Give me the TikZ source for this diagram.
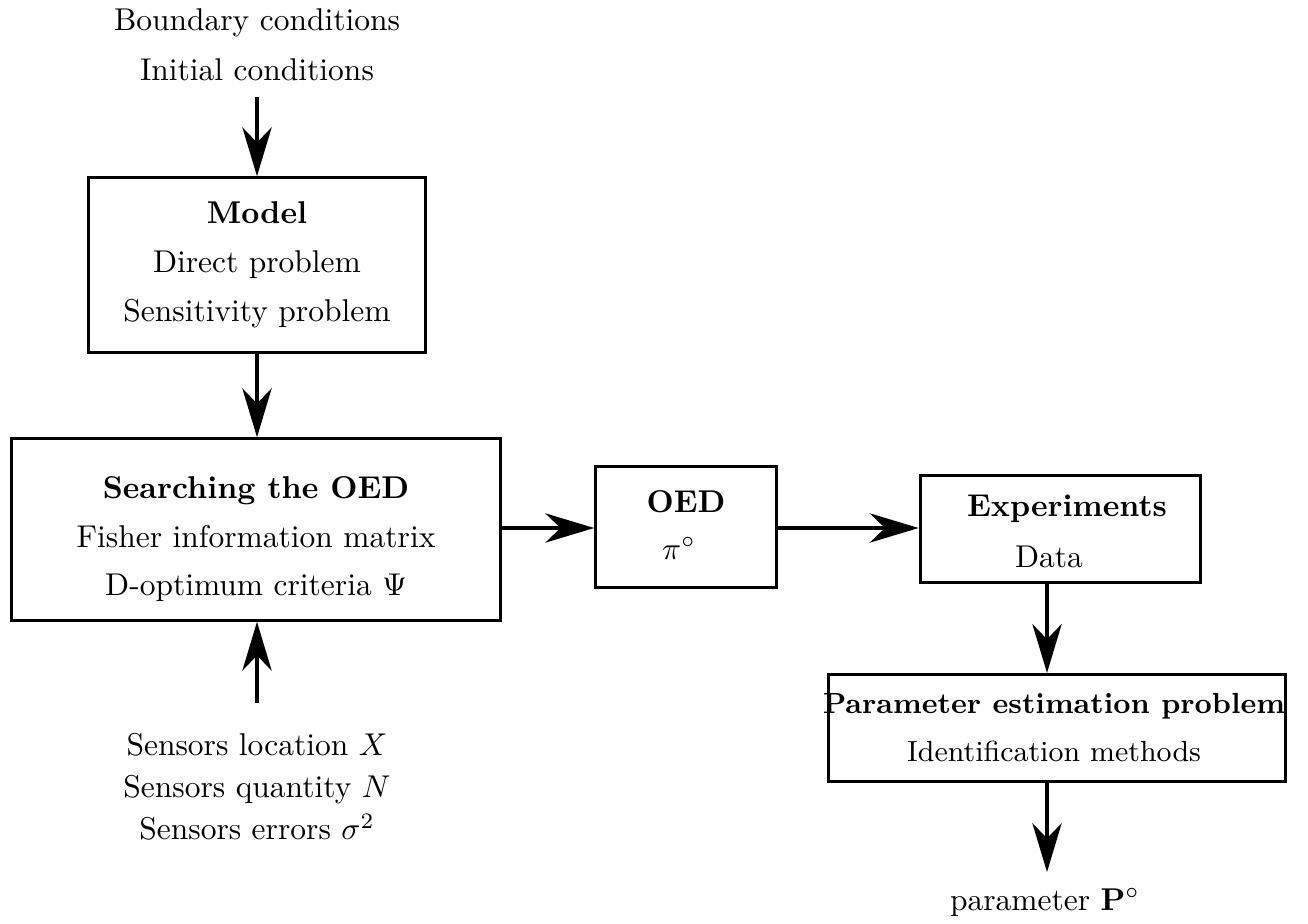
\documentclass[tikz,border=0pt]{standalone}
\usetikzlibrary{arrows.meta}
\begin{document}
\begin{tikzpicture}[x=0.3175pt,y=-0.3175pt,
  box/.style={draw,line width=1pt,inner sep=0pt},
  txt/.style={align=center,inner sep=0pt},
  ln/.style={inner sep=0pt,anchor=base},
  arr/.style={line width=1pt,-{Stealth[length=15.5pt,width=9.3pt,inset=4.8pt]}}]
\useasboundingbox (0,0) rectangle (1308,923);
% top inputs
\node[txt,font=\fontsize{10}{15.8}\selectfont] (bc) at (257,45) {Boundary conditions\\Initial conditions};
\coordinate (bcend) at (257,97);
% model
\node[box,align=center,font=\fontsize{10}{15.5}\selectfont,minimum width=107.1pt,minimum height=55.4pt] (model) at (257,265) {\textbf{Model}\\Direct problem\\Sensitivity problem};
% searching
\node[box,minimum width=155pt,minimum height=57.6pt] (search) at (256,529.5) {};
\node[ln] (s1) at (256,498) {\textbf{Searching the OED}};
\node[ln] (s2) at (256,547) {Fisher information matrix};
\node[ln] (s3) at (256,595) {D-optimum criteria $\Psi$};
% OED
\node[box,minimum width=57.3pt,minimum height=38.4pt] (oed) at (686,527) {};
\node[ln] (o1) at (686,512) {\textbf{OED}};
\node[ln] (o2) at (679,559) {$\pi^\circ$};
% experiments
\node[box,minimum width=89.1pt,minimum height=34pt] (exp) at (1060.5,529) {};
\node[ln] (e1) at (1067,516) {\textbf{Experiments}};
\node[ln] (e2) at (1049,567) {Data};
% parameter estimation
\node[box,minimum width=144.9pt,minimum height=34pt] (par) at (1057,728) {};
\node[ln,font=\fontsize{9.25}{11}\selectfont] (p1) at (1054,713) {\textbf{Parameter estimation problem}};
\node[ln,font=\fontsize{9.25}{11}\selectfont] (p2) at (1054,761) {Identification methods};
% sensors
\node[txt,font=\fontsize{10}{13.3}\selectfont] (sens) at (257,787) {Sensors location $X$\\Sensors quantity $N$\\Sensors errors $\sigma^2$};
\coordinate (sensend) at (257,703);
% output
\node[ln] (pout) at (1045,910) {parameter $\mathbf{P}^\circ$};
\coordinate (poutend) at (1047,872);
% connectors
\draw[arr] (bcend) -- (model.north);
\draw[arr] (model.south) -- (model.south |- search.north);
\draw[arr] (sensend) -- (sensend |- search.south);
\draw[arr] (search.east |- 0,528) -- (oed.west |- 0,528);
\draw[arr] (oed.east |- 0,528) -- (exp.west |- 0,528);
\draw[arr] (exp.south -| 1047,0) -- (par.north -| 1047,0);
\draw[arr] (par.south -| 1047,0) -- (poutend);
\end{tikzpicture}
\end{document}
